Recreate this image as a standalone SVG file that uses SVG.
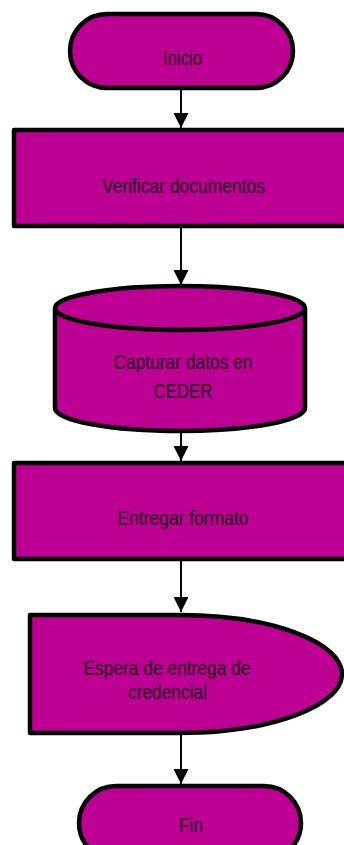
<svg xmlns="http://www.w3.org/2000/svg" width="344" height="845" viewBox="0 0 344 845">
<style>
.shape{fill:#BD0093;stroke:#000;stroke-width:4.5;stroke-linejoin:round}
.lbl{font-family:"Liberation Sans Narrow","Liberation Sans",Arial,sans-serif;font-size:21px;fill:#1c0016;text-anchor:middle}
.conn{stroke:#000;stroke-width:2;fill:none}
</style>
<defs>
<marker id="ah" viewBox="0 0 15 15" refX="15" refY="7.5" markerWidth="15" markerHeight="15" markerUnits="userSpaceOnUse" orient="auto">
<path d="M0,0 L15,7.5 L0,15 z" fill="#000"/>
</marker>
</defs>
<rect width="344" height="845" fill="#fff"/>
<g id="connectors">
<line class="conn" x1="181" y1="90" x2="181" y2="128" marker-end="url(#ah)"/>
<line class="conn" x1="181" y1="228" x2="181" y2="285" marker-end="url(#ah)"/>
<line class="conn" x1="181" y1="433" x2="181" y2="461" marker-end="url(#ah)"/>
<line class="conn" x1="181" y1="561" x2="181" y2="612" marker-end="url(#ah)"/>
<line class="conn" x1="181" y1="735" x2="181" y2="784" marker-end="url(#ah)"/>
</g>
<g id="inicio">
<rect class="shape" x="70" y="14" width="223" height="74" rx="37"/>
<text class="lbl" x="182.5" y="65" textLength="39" lengthAdjust="spacingAndGlyphs">Inicio</text>
</g>
<g id="verificar">
<rect class="shape" x="14" y="130" width="340" height="96"/>
<text class="lbl" x="183.5" y="193" textLength="163" lengthAdjust="spacingAndGlyphs">Verificar documentos</text>
</g>
<g id="capturar">
<path class="shape" d="M55,308 A125,22 0 0 1 305,308 V408 A125,23 0 0 1 55,408 Z"/>
<path class="shape" d="M55,308 A125,22 0 0 0 305,308" fill="none"/>
<text class="lbl" x="183" y="369" textLength="139" lengthAdjust="spacingAndGlyphs">Capturar datos en</text>
<text class="lbl" x="183" y="398" textLength="59" lengthAdjust="spacingAndGlyphs">CEDER</text>
</g>
<g id="entregar">
<rect class="shape" x="14" y="463" width="340" height="96"/>
<text class="lbl" x="183" y="525" textLength="131" lengthAdjust="spacingAndGlyphs">Entregar formato</text>
</g>
<g id="espera">
<path class="shape" d="M30,615 H180 A162,59 0 0 1 180,733 H30 Z"/>
<text class="lbl" x="167" y="675" textLength="167" lengthAdjust="spacingAndGlyphs">Espera de entrega de</text>
<text class="lbl" x="167.5" y="699" textLength="79" lengthAdjust="spacingAndGlyphs">credencial</text>
</g>
<g id="fin">
<rect class="shape" x="79" y="786" width="222" height="74" rx="37"/>
<text class="lbl" x="191" y="832" textLength="24" lengthAdjust="spacingAndGlyphs">Fin</text>
</g>
</svg>
